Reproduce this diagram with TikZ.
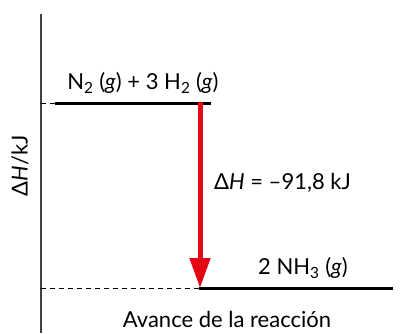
\documentclass[tikz,border=0pt]{standalone}
\usepackage{fontspec}
\setmainfont{Lato}
\usetikzlibrary{arrows.meta}
\definecolor{arrowred}{RGB}{227,6,19}
\tikzset{
  level/.style={line width=3pt},
  guide/.style={dash pattern=on 5pt off 4pt, line width=0.9pt},
  lab/.style={font=\fontsize{22}{26}\selectfont, inner sep=0pt}
}
\begin{document}
\begin{tikzpicture}[x=1pt,y=1pt]
  \useasboundingbox (0,0) rectangle (415,333);
  \draw[line width=1.3pt, black!75] (41,319) -- (41,0);
  \node[lab, rotate=90] (yaxis) at (20,167) {Δ\textit{H}/kJ};
  \coordinate (topA) at (41,230);
  \coordinate (topB) at (55,230);
  \coordinate (topC) at (211,230);
  \coordinate (botA) at (41,45);
  \coordinate (botB) at (199,45);
  \coordinate (botC) at (393,45);
  \draw[guide] (topA) -- (topB);
  \draw[level] (topB) -- (topC);
  \draw[guide] (botA) -- (botB);
  \draw[level] (botB) -- (botC);
  \node[lab] (react) at (143,250) {N\textsubscript{2} (\textit{g}) + 3 H\textsubscript{2} (\textit{g})};
  \node[lab] (prod) at (303,65) {2 NH\textsubscript{3} (\textit{g})};
  \node[lab, anchor=west] (dH) at (214,150) {Δ\textit{H} = –91,8 kJ};
  \node[lab, anchor=base] (avance) at (227,6) {Avance de la reacción};
  \coordinate (arrS) at (200,231);
  \coordinate (arrE) at (200,45);
  \draw[arrowred, line width=5pt, -{Triangle[length=30pt,width=20pt]}] (arrS) -- (arrE);
\end{tikzpicture}
\end{document}
